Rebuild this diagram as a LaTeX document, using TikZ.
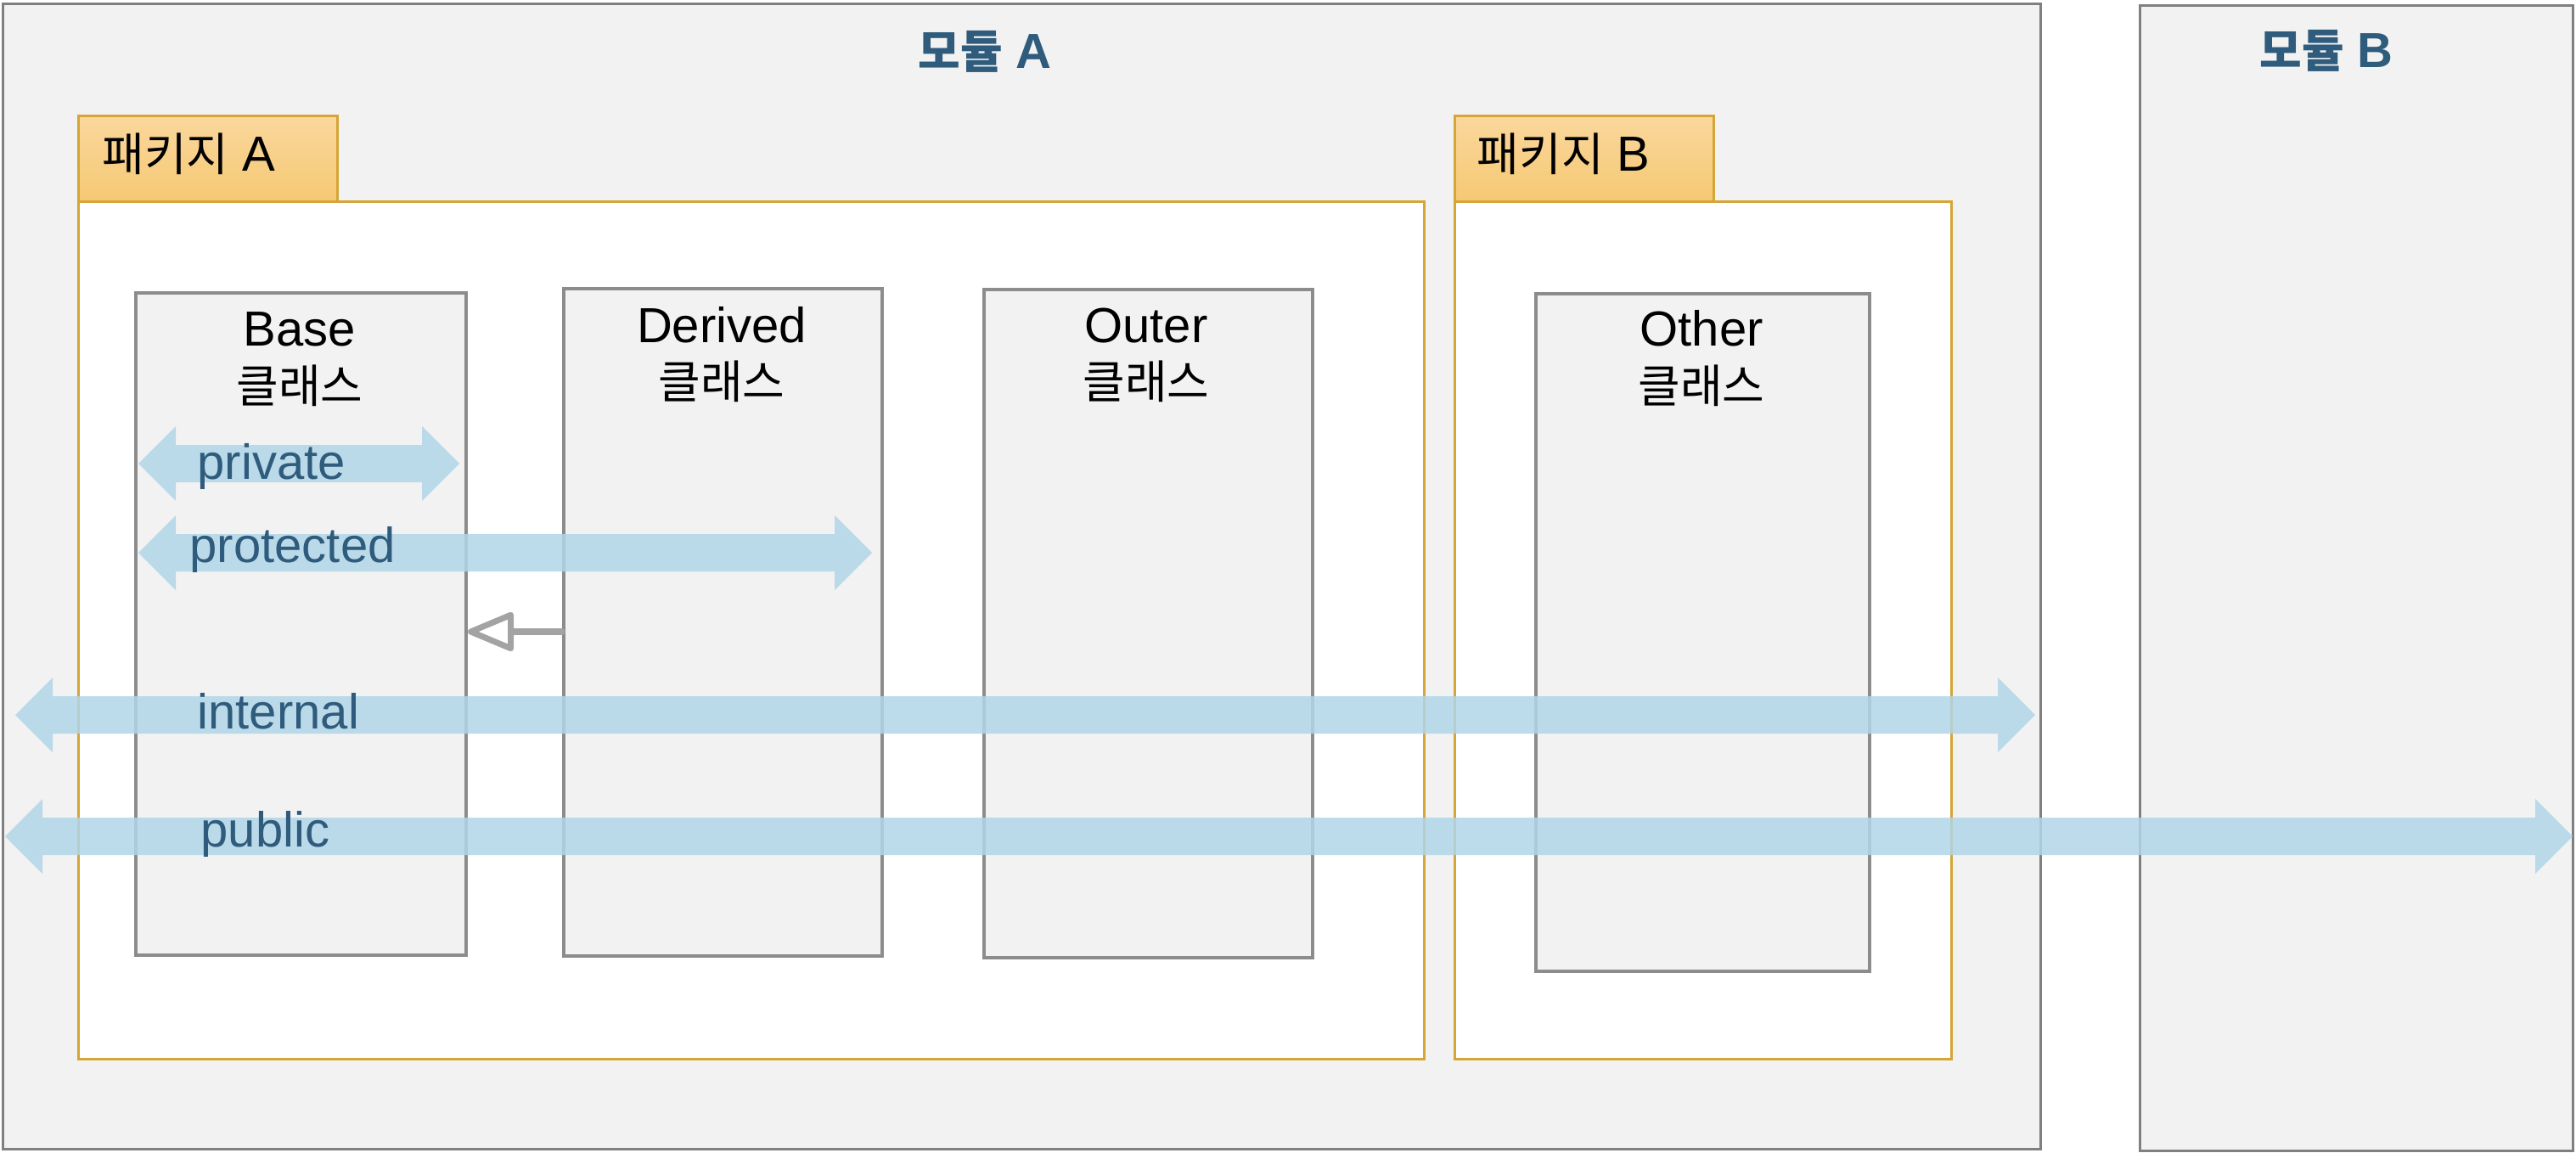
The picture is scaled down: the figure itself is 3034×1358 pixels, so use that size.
\documentclass[tikz,border=0pt]{standalone}
\usepackage{fontspec}
\setmainfont{Liberation Sans}
\newfontfamily\kr[Scale=0.93]{Noto Sans CJK KR}
\usetikzlibrary{arrows.meta}
\definecolor{modfill}{HTML}{F2F2F2}
\definecolor{modline}{HTML}{808080}
\definecolor{pkgline}{HTML}{D4A537}
\definecolor{pkgtop}{HTML}{FAD79C}
\definecolor{pkgbot}{HTML}{F5C873}
\definecolor{clsline}{HTML}{8C8C8C}
\definecolor{lbl}{HTML}{2F5B7C}
\definecolor{arrcol}{RGB}{177,213,232}
\definecolor{inhcol}{HTML}{A3A3A3}
\tikzset{
  modbox/.style={draw=modline, fill=modfill, line width=0.85pt, rectangle, inner sep=0pt},
  pkgtab/.style={draw=pkgline, top color=pkgtop, bottom color=pkgbot, line width=0.9pt, rectangle, inner sep=0pt},
  pkgbody/.style={draw=pkgline, fill=white, line width=0.9pt, rectangle, inner sep=0pt},
  clsbox/.style={draw=clsline, fill=modfill, line width=1.15pt, rectangle, inner sep=0pt},
  txt/.style={font=\fontsize{16.5}{20}\selectfont, inner sep=0pt, anchor=base},
  modlbl/.style={txt, text=lbl, font=\fontsize{16.5}{20}\selectfont\bfseries},
  arrlbl/.style={txt, text=lbl, anchor=base west},
  blockarrow/.style={fill=arrcol, fill opacity=0.85},
  inherit/.style={draw=inhcol, line width=2pt, line cap=round,
    -{Triangle[open, round, length=0.6cm, width=0.48cm]}}
}
\newcommand\boxat[6]{\node[#6, anchor=north west,
  minimum width={(#4-#2)*0.01cm}, minimum height={(#5-#3)*0.01cm}] (#1) at (#2,#3) {};}
\newcommand\dblarrow[3]{%
  \path[blockarrow] (#1,#3) -- (#1+44,#3-44) -- (#1+44,#3-22) -- (#2-44,#3-22)
   -- (#2-44,#3-44) -- (#2,#3) -- (#2-44,#3+44) -- (#2-44,#3+22)
   -- (#1+44,#3+22) -- (#1+44,#3+44) -- cycle;}
\begin{document}
\begin{tikzpicture}[x=0.01cm, y=-0.01cm]
\useasboundingbox (0,0) rectangle (3034,1358);
% modules
\boxat{modA}{2}{3}{2402}{1352}{modbox}
\boxat{modB}{2519}{5}{3029}{1354}{modbox}
\node[modlbl] (modAlbl) at (1160,81) {{\kr 모듈} A};
\node[modlbl] (modBlbl) at (2740,80) {{\kr 모듈} B};
% packages
\boxat{pkgAbody}{91}{236}{1676}{1246}{pkgbody}
\boxat{pkgAtab}{91}{135}{396}{236}{pkgtab}
\boxat{pkgBbody}{1712}{236}{2297}{1246}{pkgbody}
\boxat{pkgBtab}{1712}{135}{2017}{236}{pkgtab}
\node[txt, anchor=base west] (pkgAlbl) at (120,202) {{\kr 패키지} A};
\node[txt, anchor=base west] (pkgBlbl) at (1739,202) {{\kr 패키지} B};
% classes
\boxat{base}{158}{343}{547}{1123}{clsbox}
\boxat{derived}{662}{338}{1037}{1124}{clsbox}
\boxat{outer}{1157}{339}{1544}{1126}{clsbox}
\boxat{other}{1807}{344}{2200}{1142}{clsbox}
\node[txt] (baseT1) at (353,408) {Base};
\node[txt] (baseT2) at (353,474) {\kr 클래스};
\node[txt] (derT1) at (850,403) {Derived};
\node[txt] (derT2) at (850,469) {\kr 클래스};
\node[txt] (outT1) at (1350,403) {Outer};
\node[txt] (outT2) at (1350,469) {\kr 클래스};
\node[txt] (othT1) at (2004,408) {Other};
\node[txt] (othT2) at (2004,474) {\kr 클래스};
% block arrows
\dblarrow{163}{541}{546}
\dblarrow{163}{1027}{651}
\dblarrow{18}{2397}{842}
\dblarrow{6}{3030}{985}
\node[arrlbl] (privT) at (232,564) {private};
\node[arrlbl] (protT) at (223,662) {protected};
\node[arrlbl] (intT) at (232,858) {internal};
\node[arrlbl] (pubT) at (236,997) {public};
% inheritance
\coordinate (iy) at (0,744);
\draw[inherit] (derived.west |- iy) -- (base.east |- iy);
\end{tikzpicture}
\end{document}
